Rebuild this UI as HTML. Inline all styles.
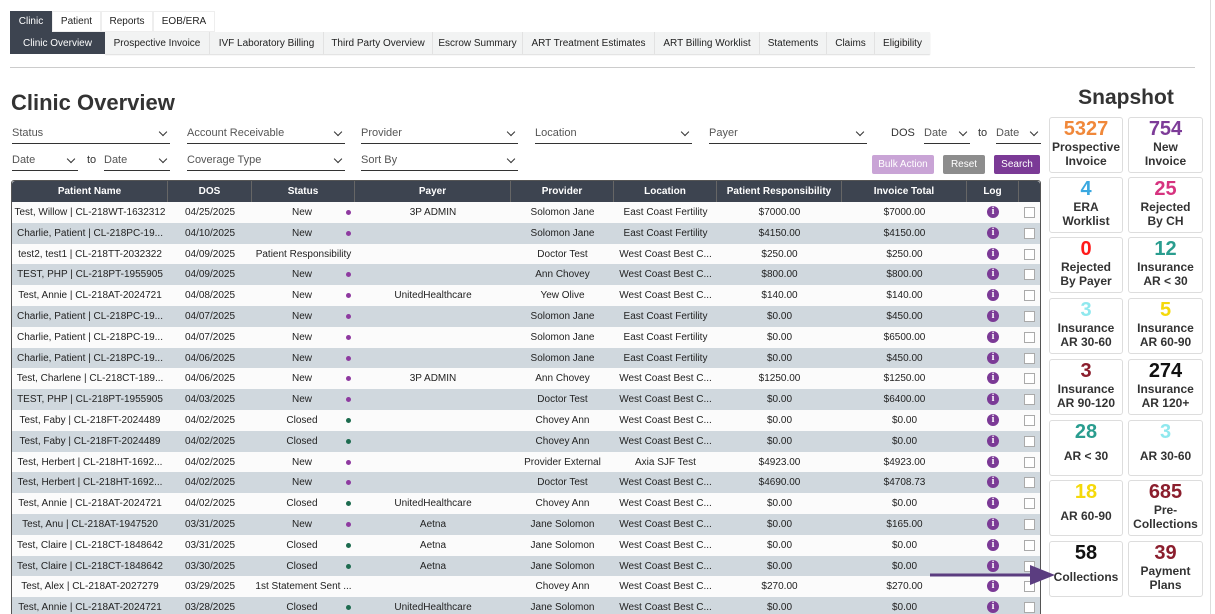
<!DOCTYPE html>
<html><head><meta charset="utf-8"><style>
*{box-sizing:border-box;margin:0;padding:0}
html,body{width:1215px;height:614px;overflow:hidden;background:#fff;font-family:"Liberation Sans",sans-serif;color:#333;position:relative}
.abs{position:absolute}
.tab{position:absolute;font-size:10px;display:flex;align-items:center;justify-content:center;color:#222}
.sel{position:absolute;font-size:11px;color:#555;border-bottom:1px solid #333;height:18px;line-height:14px}
.sel:after{content:"";position:absolute;right:4px;top:3px;width:5px;height:5px;border-right:1.3px solid #333;border-bottom:1.3px solid #333;transform:rotate(45deg)}
.btn{position:absolute;color:#fff;font-size:10px;display:flex;align-items:center;justify-content:center;border-radius:2px}
.row{position:absolute;left:12px;width:1028px;height:21px;font-size:10px;color:#222}
.cell{position:absolute;top:0;height:21px;line-height:21px;text-align:center;white-space:nowrap;overflow:hidden}
.hd{position:absolute;top:0;height:21px;line-height:21px;text-align:center;color:#fff;font-weight:bold;font-size:10px;border-right:1px solid #666}
.card{position:absolute;border:1px solid #ddd;border-radius:3px;text-align:center;background:#fff}
.num{font-size:20px;font-weight:bold;line-height:21px;margin-top:1px}
.lbl{font-size:12px;color:#333;line-height:14px;font-weight:bold}
</style></head><body>
<div class="tab" style="left:10px;top:11px;width:42px;height:21px;background:#3d4450;color:#fff">Clinic</div>
<div class="tab" style="left:52px;top:11px;width:49px;height:21px;border:1px solid #eee">Patient</div>
<div class="tab" style="left:101px;top:11px;width:52px;height:21px;border:1px solid #eee">Reports</div>
<div class="tab" style="left:153px;top:11px;width:62px;height:21px;border:1px solid #eee">EOB/ERA</div>
<div class="abs" style="left:105px;top:32px;width:825px;height:22px;background:#f2f3f3;box-shadow:0 1px 1px #ddd"></div>
<div class="tab" style="left:10px;top:32px;width:95px;height:22px;background:#3d4450;color:#fff">Clinic Overview</div>
<div class="tab" style="left:105px;top:32px;width:105px;height:22px;border-right:1px solid #e2e2e2">Prospective Invoice</div>
<div class="tab" style="left:210px;top:32px;width:114px;height:22px;border-right:1px solid #e2e2e2">IVF Laboratory Billing</div>
<div class="tab" style="left:324px;top:32px;width:109px;height:22px;border-right:1px solid #e2e2e2">Third Party Overview</div>
<div class="tab" style="left:433px;top:32px;width:90px;height:22px;border-right:1px solid #e2e2e2">Escrow Summary</div>
<div class="tab" style="left:523px;top:32px;width:132px;height:22px;border-right:1px solid #e2e2e2">ART Treatment Estimates</div>
<div class="tab" style="left:655px;top:32px;width:105px;height:22px;border-right:1px solid #e2e2e2">ART Billing Worklist</div>
<div class="tab" style="left:760px;top:32px;width:67px;height:22px;border-right:1px solid #e2e2e2">Statements</div>
<div class="tab" style="left:827px;top:32px;width:48px;height:22px;border-right:1px solid #e2e2e2">Claims</div>
<div class="tab" style="left:875px;top:32px;width:55px;height:22px">Eligibility</div>
<div class="abs" style="left:10px;top:67px;width:1185px;height:1px;background:#ccc"></div>
<div class="abs" style="left:1210px;top:0;width:1px;height:614px;background:#ddd"></div>
<div class="abs" style="left:11px;top:90px;font-size:22px;font-weight:bold;color:#333">Clinic Overview</div>

<div class="sel" style="left:12px;top:126px;width:158px">Status</div>
<div class="sel" style="left:187px;top:126px;width:158px">Account Receivable</div>
<div class="sel" style="left:361px;top:126px;width:157px">Provider</div>
<div class="sel" style="left:535px;top:126px;width:157px">Location</div>
<div class="sel" style="left:709px;top:126px;width:158px">Payer</div>
<div class="abs" style="left:891px;top:127px;font-size:11px;color:#333">DOS</div>
<div class="sel" style="left:924px;top:126px;width:46px">Date</div>
<div class="abs" style="left:978px;top:127px;font-size:11px">to</div>
<div class="sel" style="left:996px;top:126px;width:45px">Date</div>
<div class="sel" style="left:12px;top:153px;width:66px">Date</div>
<div class="abs" style="left:87px;top:154px;font-size:11px">to</div>
<div class="sel" style="left:104px;top:153px;width:66px">Date</div>
<div class="sel" style="left:187px;top:153px;width:158px">Coverage Type</div>
<div class="sel" style="left:361px;top:153px;width:157px">Sort By</div>
<div class="btn" style="left:872px;top:155px;width:62px;height:19px;background:#c9a4d6">Bulk Action</div>
<div class="btn" style="left:943px;top:155px;width:42px;height:19px;background:#8d8d8d">Reset</div>
<div class="btn" style="left:994px;top:155px;width:46px;height:19px;background:#7b3a96">Search</div>

<div class="abs" style="left:11px;top:180px;width:1030px;height:440px;border:1px solid #555;border-radius:3px 3px 0 0"></div>
<div class="row" style="top:181px;background:#3d4450;border-radius:3px 3px 0 0">
<div class="hd" style="left:0;width:156px">Patient Name</div>
<div class="hd" style="left:156px;width:84px">DOS</div>
<div class="hd" style="left:240px;width:103px">Status</div>
<div class="hd" style="left:343px;width:156px">Payer</div>
<div class="hd" style="left:499px;width:103px">Provider</div>
<div class="hd" style="left:602px;width:103px">Location</div>
<div class="hd" style="left:705px;width:125px">Patient Responsibility</div>
<div class="hd" style="left:830px;width:125px">Invoice Total</div>
<div class="hd" style="left:955px;width:52px">Log</div>
<div class="hd" style="left:1007px;width:21px;border:none"></div>
</div>
<div id="tbody"></div>
<div class="abs" style="left:1049px;top:86px;width:154px;text-align:center;font-size:21px;font-weight:bold;color:#333">Snapshot</div>
<div id="cards"></div>
<svg class="abs" style="left:925px;top:560px" width="135" height="30"><line x1="5" y1="15" x2="110" y2="15" stroke="#5b3d80" stroke-width="3"/><polygon points="105,5 130,15 105,25" fill="#5b3d80"/></svg>
<script>
const rows=[
["Test, Willow | CL-218WT-1632312","04/25/2025","New","3P ADMIN","Solomon Jane","East Coast Fertility","$7000.00","$7000.00"],
["Charlie, Patient | CL-218PC-19...","04/10/2025","New","","Solomon Jane","East Coast Fertility","$4150.00","$4150.00"],
["test2, test1 | CL-218TT-2032322","04/09/2025","Patient Responsibility","","Doctor Test","West Coast Best C...","$250.00","$250.00"],
["TEST, PHP | CL-218PT-1955905","04/09/2025","New","","Ann Chovey","West Coast Best C...","$800.00","$800.00"],
["Test, Annie | CL-218AT-2024721","04/08/2025","New","UnitedHealthcare","Yew Olive","West Coast Best C...","$140.00","$140.00"],
["Charlie, Patient | CL-218PC-19...","04/07/2025","New","","Solomon Jane","East Coast Fertility","$0.00","$450.00"],
["Charlie, Patient | CL-218PC-19...","04/07/2025","New","","Solomon Jane","East Coast Fertility","$0.00","$6500.00"],
["Charlie, Patient | CL-218PC-19...","04/06/2025","New","","Solomon Jane","East Coast Fertility","$0.00","$450.00"],
["Test, Charlene | CL-218CT-189...","04/06/2025","New","3P ADMIN","Ann Chovey","West Coast Best C...","$1250.00","$1250.00"],
["TEST, PHP | CL-218PT-1955905","04/03/2025","New","","Doctor Test","West Coast Best C...","$0.00","$6400.00"],
["Test, Faby | CL-218FT-2024489","04/02/2025","Closed","","Chovey Ann","West Coast Best C...","$0.00","$0.00"],
["Test, Faby | CL-218FT-2024489","04/02/2025","Closed","","Chovey Ann","West Coast Best C...","$0.00","$0.00"],
["Test, Herbert | CL-218HT-1692...","04/02/2025","New","","Provider External","Axia SJF Test","$4923.00","$4923.00"],
["Test, Herbert | CL-218HT-1692...","04/02/2025","New","","Doctor Test","West Coast Best C...","$4690.00","$4708.73"],
["Test, Annie | CL-218AT-2024721","04/02/2025","Closed","UnitedHealthcare","Chovey Ann","West Coast Best C...","$0.00","$0.00"],
["Test, Anu | CL-218AT-1947520","03/31/2025","New","Aetna","Jane Solomon","West Coast Best C...","$0.00","$165.00"],
["Test, Claire | CL-218CT-1848642","03/31/2025","Closed","Aetna","Jane Solomon","West Coast Best C...","$0.00","$0.00"],
["Test, Claire | CL-218CT-1848642","03/30/2025","Closed","Aetna","Jane Solomon","West Coast Best C...","$0.00","$0.00"],
["Test, Alex | CL-218AT-2027279","03/29/2025","1st Statement Sent ...","","Chovey Ann","West Coast Best C...","$270.00","$270.00"],
["Test, Annie | CL-218AT-2024721","03/28/2025","Closed","UnitedHealthcare","Jane Solomon","West Coast Best C...","$0.00","$0.00"]];
const cols=[[0,156],[156,84],[240,103],[343,156],[499,103],[602,103],[705,125],[830,125]];
const names=["patient-name","dos","status","payer","provider","location","patient-responsibility","invoice-total"];
const tb=document.getElementById('tbody');
rows.forEach((r,i)=>{
 const row=document.createElement('div');row.className='row';
 
 
 row.style.top=(202+i*20.8)+'px';row.style.background=i%2?'#d0d8de':'#fbfbfb';
 r.forEach((v,j)=>{
  const c=document.createElement('div');c.className='cell';
  
  
  let w=cols[j][1];
  if(j==2&&(v=='New'||v=='Closed')){w=100;}
  c.style.left=cols[j][0]+'px';c.style.width=w+'px';c.textContent=v;row.appendChild(c);
  if(j==2&&(v=='New'||v=='Closed')){
   const d=document.createElement('div');
   
   
   d.style.cssText='position:absolute;left:334px;top:8px;width:5px;height:5px;border-radius:50%;background:'+(v=='New'?'#8e3aa0':'#1d6b4f');
   row.appendChild(d);
  }
 });
 const ic=document.createElement('div');
 
 
 ic.style.cssText='position:absolute;left:975px;top:4px;width:12px;height:12px;border-radius:50%;background:#7b3a96;color:#fff;font-size:10px;font-weight:bold;line-height:12px;text-align:center;font-family:"Liberation Serif",serif';
 ic.textContent='i';row.appendChild(ic);
 const cb=document.createElement('div');
 
 
 cb.style.cssText='position:absolute;left:1012px;top:5px;width:11px;height:11px;border:1px solid #aaa;background:#fff';
 row.appendChild(cb);
 tb.appendChild(row);
});
const cardNums=["5327","754","4","25","0","12","3","5","3","274","28","3","18","685","58","39"];
const cardLabels=["Prospective<br>Invoice","New<br>Invoice","ERA<br>Worklist","Rejected<br>By CH","Rejected<br>By Payer","Insurance<br>AR &lt; 30","Insurance<br>AR 30-60","Insurance<br>AR 60-90","Insurance<br>AR 90-120","Insurance<br>AR 120+","AR &lt; 30","AR 30-60","AR 60-90","Pre-<br>Collections","Collections","Payment<br>Plans"];
const cardColors=["#f0883a","#7d3c98","#3aa8e0","#d6337f","#ff1a1a","#2a9d8f","#8fe8ee","#f5d90a","#8b1e2d","#111","#2a9d8f","#8fe8ee","#f5d90a","#8b1e2d","#111","#8b1e2d"];
const tops=[117,177,237,298,359,420,480,541];
const cd=document.getElementById('cards');
cardNums.forEach((n,i)=>{
 const c=document.createElement('div');c.className='card';
 
 
 const col=i%2,rw=Math.floor(i/2);
 c.style.left=(col?1128:1049)+'px';c.style.width=(col?75:74)+'px';
 c.style.top=tops[rw]+'px';c.style.height='56px';
 const single=cardLabels[i].indexOf('<br>')<0;
 c.innerHTML='<div class="num" style="color:'+cardColors[i]+'">'+n+'</div><div class="lbl" style="'+(single?'margin-top:6px':'')+'">'+cardLabels[i]+'</div>';
 cd.appendChild(c);
});
</script>
</body></html>
